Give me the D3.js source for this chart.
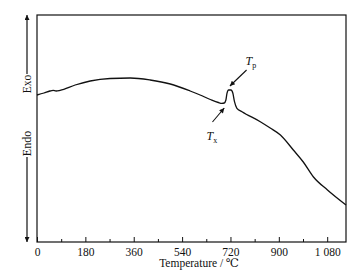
<!DOCTYPE html>
<html>
<head>
<meta charset="utf-8">
<script src="https://cdn.jsdelivr.net/npm/d3@7"></script>
<style>
  body { margin: 0; background: #fff; }
  svg { display: block; font-family: "Liberation Serif", "DejaVu Serif", serif; }
</style>
</head>
<body>
<div id="chart"></div>
<script>
// DSC curve (heat flow in arbitrary units)
const temps = [0, 26, 48, 60, 71, 86, 142, 198, 272, 347, 421, 496, 570, 607, 645, 675, 688, 697, 703, 707, 713, 722, 729, 735, 744, 763, 831, 868, 906, 954, 991, 1029, 1081, 1150];
const heat  = [147, 149, 151, 151.7, 151, 151.7, 157, 161, 163.5, 164, 162, 158, 151, 147, 142.5, 139.5, 138.7, 139, 142, 148.7, 152, 152, 148.7, 140.3, 133.7, 130.3, 120.3, 114, 107, 92, 80, 65, 52, 37];

const majorTicks = [0, 180, 360, 540, 720, 900, 1080];
const majorLabels = ["0", "180", "360", "540", "720", "900", "1 080"];
const minorTicks = [90, 270, 450, 630, 810, 990];

// annotations: [label, sub, point T, point v, tail T, tail v]
const notes = [
    { label: "T", sub: "x", t: 697, v: 134, tailT: 653, tailV: 120 },
    { label: "T", sub: "p", t: 718, v: 156, tailT: 780, tailV: 172 }
];

const width = 364;
const height = 277;
const margin = { top: 15, right: 18, bottom: 35, left: 37 };

const svg = d3.select("#chart")
    .append("svg")
    .attr("width", width)
    .attr("height", height);

const x = d3.scaleLinear()
    .domain([0, 1150])
    .range([margin.left, width - margin.right]);

const y = d3.scaleLinear()
    .domain([0, 227])
    .range([height - margin.bottom, margin.top]);

const defs = svg.append("defs");
defs.append("marker")
    .attr("id", "head")
    .attr("viewBox", "0 0 10 10")
    .attr("refX", 10).attr("refY", 5)
    .attr("markerWidth", 7).attr("markerHeight", 5)
    .attr("markerUnits", "userSpaceOnUse")
    .attr("orient", "auto")
    .append("path")
    .attr("d", "M0,0L10,5L0,10Z")
    .attr("fill", "#111");

// cadre
svg.append("rect")
    .attr("x", x(0))
    .attr("y", margin.top)
    .attr("width", x(1150) - x(0))
    .attr("height", y(0) - margin.top)
    .attr("fill", "none")
    .attr("stroke", "#111")
    .attr("stroke-width", 1.2);

// axe X
const xAxis = svg.append("g")
    .attr("transform", `translate(0,${y(0)})`)
    .call(d3.axisBottom(x)
        .tickValues(majorTicks)
        .tickFormat((d, i) => majorLabels[i])
        .tickSize(-5)
        .tickPadding(6));
xAxis.select(".domain").remove();
xAxis.selectAll("line").attr("stroke", "#111");
xAxis.selectAll("text")
    .attr("fill", "#111")
    .style("font-size", "11.5px")
    .style("font-family", "Liberation Serif, serif");

const xMinor = svg.append("g")
    .attr("transform", `translate(0,${y(0)})`)
    .call(d3.axisBottom(x).tickValues(minorTicks).tickSize(-3).tickFormat(""));
xMinor.select(".domain").remove();
xMinor.selectAll("line").attr("stroke", "#111");

svg.append("text")
    .attr("x", 199)
    .attr("y", 267)
    .attr("text-anchor", "middle")
    .style("font-size", "11.5px")
    .attr("fill", "#111")
    .text("Temperature / ℃");

// Exo / Endo
const ax = 27;
svg.append("line")
    .attr("x1", ax).attr("x2", ax)
    .attr("y1", 74).attr("y2", margin.top)
    .attr("stroke", "#111").attr("stroke-width", 1.2)
    .attr("marker-end", "url(#head)");
svg.append("line")
    .attr("x1", ax).attr("x2", ax)
    .attr("y1", 157).attr("y2", 242)
    .attr("stroke", "#111").attr("stroke-width", 1.2)
    .attr("marker-end", "url(#head)");
svg.append("text")
    .attr("transform", `translate(${ax + 4},84) rotate(-90)`)
    .attr("text-anchor", "middle")
    .style("font-size", "11.5px")
    .attr("fill", "#111")
    .text("Exo");
svg.append("text")
    .attr("transform", `translate(${ax + 4},143.5) rotate(-90)`)
    .attr("text-anchor", "middle")
    .style("font-size", "12px")
    .attr("fill", "#111")
    .text("Endo");

// courbe
const pts = temps.map((t, i) => [t, heat[i]]);
svg.append("path")
    .datum(pts)
    .attr("fill", "none")
    .attr("stroke", "#111")
    .attr("stroke-width", 1.3)
    .attr("d", d3.line()
        .x(d => x(d[0]))
        .y(d => y(d[1]))
        .curve(d3.curveMonotoneX));

// flèches Tx / Tp
notes.forEach(n => {
    svg.append("line")
        .attr("x1", x(n.tailT)).attr("y1", y(n.tailV))
        .attr("x2", x(n.t)).attr("y2", y(n.v))
        .attr("stroke", "#111").attr("stroke-width", 1.1)
        .attr("marker-end", "url(#head)");
});

const tx = svg.append("text")
    .attr("x", x(notes[0].tailT) - 6)
    .attr("y", y(notes[0].tailV) + 18)
    .attr("fill", "#111")
    .style("font-size", "12px");
tx.append("tspan").style("font-style", "italic").text(notes[0].label);
tx.append("tspan").attr("dy", 3).style("font-size", "8px").text(notes[0].sub);

const tp = svg.append("text")
    .attr("x", x(notes[1].tailT) - 1)
    .attr("y", y(notes[1].tailV) - 5)
    .attr("fill", "#111")
    .style("font-size", "12px");
tp.append("tspan").style("font-style", "italic").text(notes[1].label);
tp.append("tspan").attr("dy", 3).style("font-size", "8px").text(notes[1].sub);
</script>
</body>
</html>
